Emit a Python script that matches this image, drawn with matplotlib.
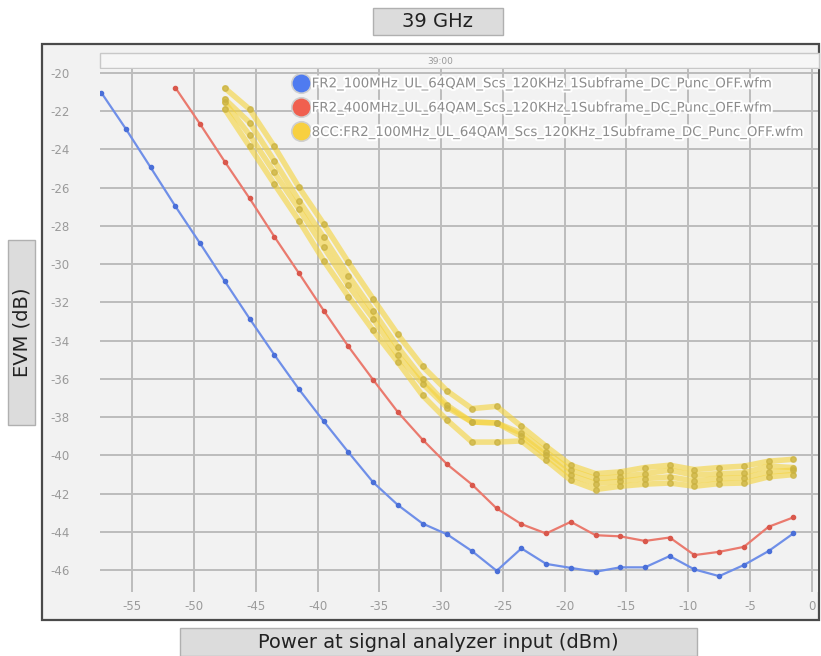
import matplotlib
matplotlib.use("Agg")
import matplotlib.pyplot as plt
from matplotlib.patches import Rectangle
from matplotlib.lines import Line2D
import matplotlib.patheffects as pe

# ---------------- data ----------------
power_blue = [-57.5, -55.5, -53.5, -51.5, -49.5, -47.5, -45.5, -43.5, -41.5, -39.5,
              -37.5, -35.5, -33.5, -31.5, -29.5, -27.5, -25.5, -23.5, -21.5, -19.5,
              -17.5, -15.5, -13.5, -11.5, -9.5, -7.5, -5.5, -3.5, -1.5]
evm_blue = [-21.03, -22.94, -24.95, -26.98, -28.92, -30.90, -32.85, -34.74, -36.55, -38.22,
            -39.84, -41.41, -42.60, -43.57, -44.14, -45.01, -46.04, -44.87, -45.68, -45.89,
            -46.09, -45.86, -45.86, -45.27, -45.97, -46.32, -45.74, -45.01, -44.09]

power_red = [-51.5, -49.5, -47.5, -45.5, -43.5, -41.5, -39.5, -37.5, -35.5, -33.5,
             -31.5, -29.5, -27.5, -25.5, -23.5, -21.5, -19.5, -17.5, -15.5, -13.5,
             -11.5, -9.5, -7.5, -5.5, -3.5, -1.5]
evm_red = [-20.78, -22.68, -24.65, -26.56, -28.56, -30.48, -32.43, -34.31, -36.05, -37.74,
           -39.18, -40.48, -41.53, -42.78, -43.60, -44.09, -43.48, -44.18, -44.24, -44.48,
           -44.30, -45.22, -45.05, -44.79, -43.74, -43.25]

power_yellow = [-47.5, -45.5, -43.5, -41.5, -39.5, -37.5, -35.5, -33.5, -31.5, -29.5,
                -27.5, -25.5, -23.5, -21.5, -19.5, -17.5, -15.5, -13.5, -11.5, -9.5,
                -7.5, -5.5, -3.5, -1.5]
evm_yellow_1 = [-20.80, -21.90, -23.85, -25.99, -27.90, -29.91, -31.82, -33.68, -35.35, -36.64,
                -37.56, -37.44, -38.49, -39.53, -40.52, -40.96, -40.87, -40.64, -40.52, -40.75,
                -40.64, -40.57, -40.31, -40.21]
evm_yellow_2 = [-21.37, -22.60, -24.60, -26.68, -28.60, -30.60, -32.46, -34.34, -36.00, -37.39,
                -38.26, -38.31, -38.84, -39.83, -40.78, -41.22, -41.13, -40.96, -40.78, -41.04,
                -40.96, -40.92, -40.57, -40.64]
evm_yellow_3 = [-21.55, -23.25, -25.21, -27.12, -29.12, -31.12, -32.86, -34.78, -36.26, -37.51,
                -38.26, -38.31, -39.01, -40.00, -41.04, -41.48, -41.36, -41.22, -41.13, -41.34,
                -41.22, -41.18, -40.87, -40.78]
evm_yellow_4 = [-21.90, -23.85, -25.81, -27.73, -29.82, -31.70, -33.47, -35.13, -36.87, -38.17,
                -39.31, -39.31, -39.25, -40.26, -41.31, -41.79, -41.62, -41.51, -41.45, -41.62,
                -41.48, -41.45, -41.13, -41.01]

x_ticks = [-55, -50, -45, -40, -35, -30, -25, -20, -15, -10, -5, 0]
y_ticks = [-20, -22, -24, -26, -28, -30, -32, -34, -36, -38, -40, -42, -44, -46]

labels = ["FR2_100MHz_UL_64QAM_Scs_120KHz_1Subframe_DC_Punc_OFF.wfm",
          "FR2_400MHz_UL_64QAM_Scs_120KHz_1Subframe_DC_Punc_OFF.wfm",
          "8CC:FR2_100MHz_UL_64QAM_Scs_120KHz_1Subframe_DC_Punc_OFF.wfm"]

title = "39 GHz"
xlabel = "Power at signal analyzer input (dBm)"
ylabel = "EVM (dB)"

# ---------------- figure ----------------
W, H = 821, 656
fig = plt.figure(figsize=(W / 100, H / 100), dpi=100)
fig.patch.set_facecolor("white")

def fx(px):
    return px / W

def fy(py):
    return 1 - py / H

# outer frame
fig.patches.append(Rectangle((fx(42), fy(620)), fx(819) - fx(42), fy(44) - fy(620),
                             transform=fig.transFigure, facecolor="#f2f2f2",
                             edgecolor="#4a4a4a", linewidth=1.6, zorder=-10))
# top banner
fig.patches.append(Rectangle((fx(100), fy(68)), fx(819) - fx(100), fy(53) - fy(68),
                             transform=fig.transFigure, facecolor="#f6f6f6",
                             edgecolor="#c8c8c8", linewidth=1.0, zorder=-9))
fig.text(fx(440), fy(61), "39:00", fontsize=6.5, color="#999999", ha="center", va="center")

# label boxes
fig.patches.append(Rectangle((fx(373), fy(35)), fx(503) - fx(373), fy(8) - fy(35),
                             transform=fig.transFigure, facecolor="#dcdcdc",
                             edgecolor="#b0b0b0", linewidth=1.0, zorder=-9))
fig.text(fx(438), fy(21.5), title, fontsize=14, color="#222222", ha="center", va="center")

fig.patches.append(Rectangle((fx(8), fy(425)), fx(35) - fx(8), fy(240) - fy(425),
                             transform=fig.transFigure, facecolor="#dcdcdc",
                             edgecolor="#b0b0b0", linewidth=1.0, zorder=-9))
fig.text(fx(21.5), fy(332), ylabel, fontsize=14, color="#222222", ha="center", va="center",
         rotation=90)

fig.patches.append(Rectangle((fx(180), fy(656)), fx(697) - fx(180), fy(628) - fy(656),
                             transform=fig.transFigure, facecolor="#dcdcdc",
                             edgecolor="#b0b0b0", linewidth=1.0, zorder=-9))
fig.text(fx(438), fy(642), xlabel, fontsize=14, color="#222222", ha="center", va="center")

# axes
ax = fig.add_axes([fx(100), fy(592), fx(818) - fx(100), fy(69) - fy(592)])
ax.set_facecolor("#f2f2f2")
ax.set_xlim(-57.6, 0.5)
ax.set_ylim(-47.15, -19.8)
for s in ax.spines.values():
    s.set_visible(False)
ax.set_xticks(x_ticks)
ax.set_yticks(y_ticks)
ax.set_xticklabels([str(v) for v in x_ticks])
ax.set_yticklabels([str(v) for v in y_ticks])
ax.tick_params(axis="both", length=0, labelsize=8.5, labelcolor="#9a9a9a")
ax.tick_params(axis="y", pad=22)
ax.tick_params(axis="x", pad=6)
ax.grid(True, color="#bcbcbc", linewidth=1.4)
ax.set_axisbelow(True)

# yellow bundle
ycol = "#f5d33a"
for ev in (evm_yellow_1, evm_yellow_2, evm_yellow_3, evm_yellow_4):
    ax.plot(power_yellow, ev, color=ycol, alpha=0.6, linewidth=4, zorder=3,
            solid_capstyle="round")
    ax.plot(power_yellow, ev, linestyle="none", marker="o", markersize=4,
            color="#c9b140", alpha=0.7, zorder=4)

# red
ax.plot(power_red, evm_red, color="#ea7a6e", linewidth=1.6, zorder=5)
ax.plot(power_red, evm_red, linestyle="none", marker="o", markersize=3,
        color="#d9584c", zorder=6)

# blue
ax.plot(power_blue, evm_blue, color="#6f8fe8", linewidth=1.6, zorder=5)
ax.plot(power_blue, evm_blue, linestyle="none", marker="o", markersize=3,
        color="#4a6fd8", zorder=6)

handles = [Line2D([], [], linestyle="none", marker="o", markersize=14,
                  markerfacecolor=c, markeredgecolor="#cfcfcf", markeredgewidth=1.2)
           for c in ("#4f7bf0", "#f0604f", "#f8d040")]
leg = ax.legend(handles, labels, loc="upper left",
                bbox_to_anchor=(fx(285), fy(68)), bbox_transform=fig.transFigure,
                frameon=False, fontsize=9.6, handlelength=1.0, handletextpad=0.3,
                labelspacing=0.85, borderpad=0.2)
for t in leg.get_texts():
    t.set_color("#8c8c8c")
    t.set_path_effects([pe.withStroke(linewidth=3, foreground="white")])

fig.savefig("out.png", dpi=100, facecolor=fig.get_facecolor())
